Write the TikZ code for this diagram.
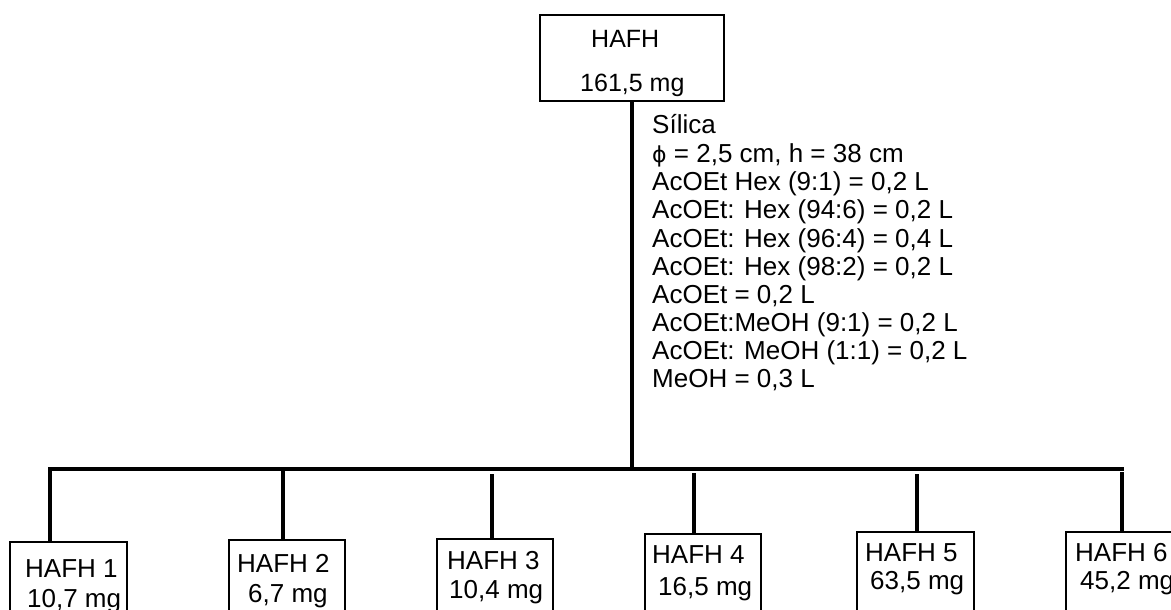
\documentclass[tikz,border=0pt]{standalone}
\usepackage{fontspec}
\setmainfont{Liberation Sans}
\newfontfamily\symfont{DejaVu Sans}
\begin{document}
\begin{tikzpicture}[x=1pt,y=-1pt,
  box/.style={draw, line width=2.2pt, anchor=north west, inner sep=0pt},
  txt/.style={anchor=base west, inner sep=0pt, font=\fontsize{26}{28}\selectfont},
  link/.style={line width=3.2pt}]
\useasboundingbox (0,0) rectangle (1171,610);
\clip (0,0) rectangle (1171,610);

% starting material
\node[box, minimum width=184pt, minimum height=86pt] (top) at (539,14) {};
\node[txt, font=\fontsize{25}{28}\selectfont] (topA) at (591,48) {HAFH};
\node[txt, font=\fontsize{25}{28}\selectfont] (topB) at (580,92) {161,5 mg};

% column conditions
\node[txt] (c1) at (652,133) {Sílica};
\node[txt] (c2) at (652,162) {{\symfont\fontsize{22}{28}\selectfont ϕ} = 2,5 cm, h = 38 cm};
\node[txt] (c3) at (652,190) {AcOEt Hex (9:1) = 0,2 L};
\node[txt] (c4) at (652,218) {AcOEt: Hex (94:6) = 0,2 L};
\node[txt] (c5) at (652,247) {AcOEt: Hex (96:4) = 0,4 L};
\node[txt] (c6) at (652,275) {AcOEt: Hex (98:2) = 0,2 L};
\node[txt] (c7) at (652,303) {AcOEt = 0,2 L};
\node[txt] (c8) at (652,331) {AcOEt:MeOH (9:1) = 0,2 L};
\node[txt] (c9) at (652,359) {AcOEt: MeOH (1:1) = 0,2 L};
\node[txt] (c10) at (652,387) {MeOH = 0,3 L};

% fractions
\node[box, minimum width=117pt, minimum height=90pt] (f1) at (9,541) {};
\node[box, minimum width=116pt, minimum height=90pt] (f2) at (228,539) {};
\node[box, minimum width=116pt, minimum height=90pt] (f3) at (436,538) {};
\node[box, minimum width=116pt, minimum height=90pt] (f4) at (644,533) {};
\node[box, minimum width=117pt, minimum height=90pt] (f5) at (856,531) {};
\node[box, minimum width=120pt, minimum height=90pt] (f6) at (1065,531) {};

\node[txt] (f1a) at (25,577) {HAFH 1};
\node[txt] (f1b) at (27,607) {10,7 mg};
\node[txt] (f2a) at (237,572) {HAFH 2};
\node[txt] (f2b) at (248,602) {6,7 mg};
\node[txt] (f3a) at (447,569) {HAFH 3};
\node[txt] (f3b) at (449,598) {10,4 mg};
\node[txt] (f4a) at (652,563) {HAFH 4};
\node[txt] (f4b) at (658,595) {16,5 mg};
\node[txt] (f5a) at (865,561) {HAFH 5};
\node[txt] (f5b) at (870,589) {63,5 mg};
\node[txt] (f6a) at (1075,561) {HAFH 6};
\node[txt] (f6b) at (1080,589) {45,2 mg};

% connectors
\coordinate (j) at (632,469);
\coordinate (bl) at (50,469);
\coordinate (br) at (1122,469);
\draw[link] (top.south -| j) -- (j);
\draw[link, line cap=rect] (bl) -- (br);
\draw[link] (bl) -- (bl |- f1.north);
\draw[link] (283,469) -- (283,0 |- f2.north);
\draw[link] (492,474) -- (492,0 |- f3.north);
\draw[link] (694,473) -- (694,0 |- f4.north);
\draw[link] (917,474) -- (917,0 |- f5.north);
\draw[link] (1122,472) -- (1122,0 |- f6.north);
\end{tikzpicture}
\end{document}
